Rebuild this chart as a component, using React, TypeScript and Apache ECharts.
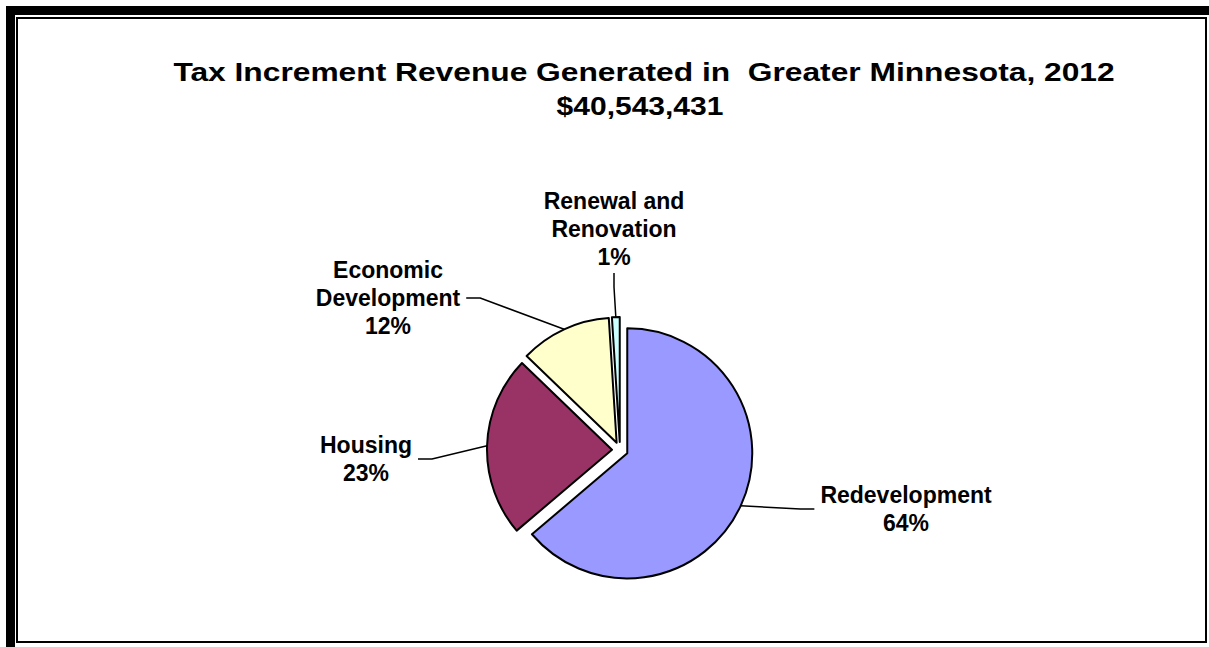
import React, { useEffect, useRef } from "react";
import * as echarts from "echarts";

// ---- data ----
const categories = ["Redevelopment", "Housing", "Economic Development", "Renewal and Renovation"];
const labelTexts = ["Redevelopment", "Housing", "Economic\nDevelopment", "Renewal and\nRenovation"];
const sharePercent = [63.8, 23.4, 11.8, 1.0];
const sliceColors = ["#9999FF", "#993366", "#FFFFCC", "#CCFFFF"];
const titleLines = ["Tax Increment Revenue Generated in  Greater Minnesota, 2012", "$40,543,431"];

// ---- layout ----
const PIE_CENTER: [number, number] = [620, 450];
const PIE_RADIUS = 125;
const EXPLODE = 8;
const labelCenters: [number, number][] = [
  [906, 509],
  [366, 459],
  [388, 298],
  [614, 229],
];
const titlePlacement = [
  { x: 644, y: 72, scaleX: 1.27 },
  { x: 640, y: 106, scaleX: 1.2 },
];
const FONT = '"Liberation Sans", Arial, Helvetica, sans-serif';

export default function App() {
  const ref = useRef<HTMLDivElement>(null);
  useEffect(() => {
    if (!ref.current) return;
    const chart = echarts.init(ref.current, null, { renderer: "svg" });
    const total = sharePercent.reduce((a, b) => a + b, 0);
    let cum = 0;
    const series = categories.map((_, i) => {
      const mid = ((cum + sharePercent[i] / 2) / total) * 2 * Math.PI;
      cum += sharePercent[i];
      const cx = PIE_CENTER[0] + EXPLODE * Math.sin(mid);
      const cy = PIE_CENTER[1] - EXPLODE * Math.cos(mid);
      return {
        type: "pie",
        name: categories[i],
        center: [cx, cy],
        radius: PIE_RADIUS,
        startAngle: 90,
        clockwise: true,
        silent: true,
        percentPrecision: 1,
        avoidLabelOverlap: false,
        emphasis: { disabled: true },
        label: {
          show: true,
          position: "outside",
          formatter: (p: any) => `${labelTexts[p.dataIndex]}\n${Math.round(p.percent)}%`,
          color: "#000",
          fontFamily: FONT,
          fontWeight: "bold",
          fontSize: 23,
          lineHeight: 28,
          align: "center",
          padding: [2, 6],
        },
        labelLine: {
          show: true,
          length: 10,
          length2: 14,
          lineStyle: { color: "#000", width: 1.5 },
        },
        labelLayout: (params: any) => {
          if (params.dataIndex !== i) return {};
          const c = labelCenters[i];
          return { x: c[0], y: c[1], align: "center", verticalAlign: "middle" };
        },
        data: categories.map((name, j) =>
          j === i
            ? {
                name,
                value: sharePercent[j],
                itemStyle: { color: sliceColors[j], borderColor: "#000", borderWidth: 2 },
              }
            : {
                name,
                value: sharePercent[j],
                itemStyle: { color: "rgba(0,0,0,0)", borderWidth: 0 },
                label: { show: false },
                labelLine: { show: false },
              }
        ),
      };
    });
    const titleTexts = titleLines.map((text, k) => ({
      type: "text",
      x: titlePlacement[k].x,
      y: titlePlacement[k].y,
      scaleX: titlePlacement[k].scaleX,
      style: {
        text,
        fontFamily: FONT,
        fontWeight: "bold",
        fontSize: 25,
        fill: "#000",
        align: "center",
        verticalAlign: "middle",
      },
      z: 10,
    }));
    chart.setOption({
      animation: false,
      backgroundColor: "#ffffff",
      graphic: [
        { type: "rect", shape: { x: 6, y: 6, width: 1203, height: 9 }, style: { fill: "#000" }, z: 10 },
        { type: "rect", shape: { x: 6, y: 6, width: 9, height: 641 }, style: { fill: "#000" }, z: 10 },
        {
          type: "rect",
          shape: { x: 17, y: 18, width: 1189, height: 624 },
          style: { fill: "none", stroke: "#000", lineWidth: 2 },
          z: 10,
        },
        ...titleTexts,
      ],
      series,
    });
    return () => chart.dispose();
  }, []);
  return (
    <div
      ref={ref}
      style={{ position: "absolute", left: 0, top: 0, width: 1209, height: 647 }}
    />
  );
}
